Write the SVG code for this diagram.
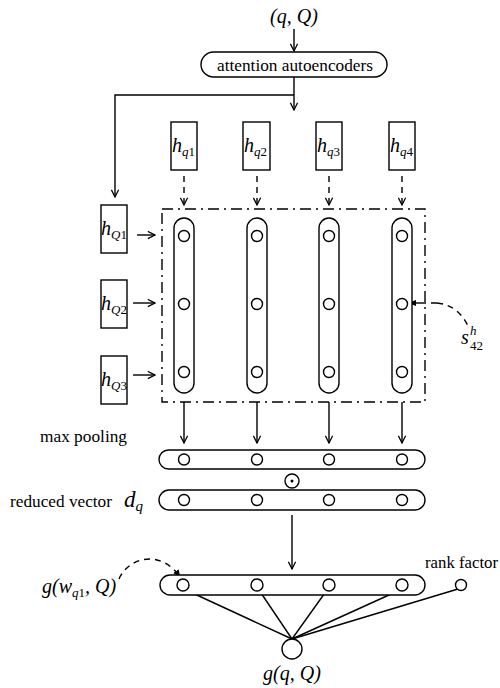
<svg xmlns="http://www.w3.org/2000/svg" width="500" height="688" viewBox="0 0 500 688">
<style>
.ln{stroke:#000;stroke-width:1.4;fill:none}
.dash{stroke:#000;stroke-width:1.4;fill:none;stroke-dasharray:6,5}
.dd{stroke:#000;stroke-width:1.4;fill:none;stroke-dasharray:11,5,2,5}
.box{stroke:#000;stroke-width:1.4;fill:#fff}
.c{stroke:#000;stroke-width:1.4;fill:#fff}
.t{font-family:"Liberation Serif",serif;font-size:17px;fill:#000}
.m{font-family:"Liberation Serif",serif;font-style:italic;font-size:20px;fill:#000}
.s{font-size:13px}
.up{font-style:normal}
</style>
<defs>
<marker id="arr" viewBox="0 0 10 10" refX="9" refY="5" markerWidth="9" markerHeight="9" markerUnits="userSpaceOnUse" orient="auto">
<path d="M1,1 L9,5 L1,9" fill="none" stroke="#000" stroke-width="1.4"/>
</marker>
<marker id="tri" viewBox="0 0 10 10" refX="9" refY="5" markerWidth="8" markerHeight="8" markerUnits="userSpaceOnUse" orient="auto">
<path d="M0,1 L10,5 L0,9 Z" fill="#000"/>
</marker>
</defs>

<g id="connectors">
<line class="ln" x1="294" y1="29" x2="294" y2="51" marker-end="url(#arr)"/>
<line class="ln" x1="294" y1="77" x2="294" y2="110" marker-end="url(#arr)"/>
<polyline class="ln" points="294,95 115,95 115,197" marker-end="url(#arr)"/>
<line class="dash" x1="184" y1="176" x2="184" y2="205" marker-end="url(#arr)"/>
<line class="dash" x1="257" y1="176" x2="257" y2="205" marker-end="url(#arr)"/>
<line class="dash" x1="329" y1="176" x2="329" y2="205" marker-end="url(#arr)"/>
<line class="dash" x1="402" y1="176" x2="402" y2="205" marker-end="url(#arr)"/>
<line class="ln" x1="137" y1="235" x2="155" y2="235" marker-end="url(#arr)"/>
<line class="ln" x1="133" y1="303" x2="155" y2="303" marker-end="url(#arr)"/>
<line class="ln" x1="133" y1="375" x2="155" y2="375" marker-end="url(#arr)"/>
<path class="dash" d="M437,303 L425,303 M437,303 Q458,305 468,326" />
<line class="ln" x1="425" y1="303" x2="409" y2="303" marker-end="url(#tri)"/>
<line class="ln" x1="184" y1="402" x2="184" y2="443" marker-end="url(#arr)"/>
<line class="ln" x1="257" y1="402" x2="257" y2="443" marker-end="url(#arr)"/>
<line class="ln" x1="329" y1="402" x2="329" y2="443" marker-end="url(#arr)"/>
<line class="ln" x1="402" y1="402" x2="402" y2="443" marker-end="url(#arr)"/>
<line class="ln" x1="292" y1="515" x2="292" y2="569" marker-end="url(#arr)"/>
<path class="dash" d="M119,579 C128,558 160,548 180,577" marker-end="url(#tri)"/>
<line class="ln" x1="186" y1="590" x2="292" y2="639"/>
<line class="ln" x1="259" y1="590" x2="292" y2="639"/>
<line class="ln" x1="327" y1="590" x2="292" y2="639"/>
<line class="ln" x1="400" y1="590" x2="292" y2="639"/>
<line class="ln" x1="458" y1="589" x2="292" y2="639"/>
</g>

<g id="input"><text class="m" x="294" y="23" text-anchor="middle">(q, Q)</text></g>

<g id="autoencoders">
<rect class="box" x="201" y="52" width="186" height="25" rx="12.5"/>
<text class="t" x="217" y="71" textLength="156" lengthAdjust="spacingAndGlyphs">attention autoencoders</text>
</g>

<g id="hq1"><rect class="box" x="171" y="122" width="26" height="48"/><text class="m" x="172" y="152">h<tspan class="s" dy="4">q<tspan class="up">1</tspan></tspan></text></g>
<g id="hq2"><rect class="box" x="243" y="122" width="27" height="48"/><text class="m" x="244" y="152">h<tspan class="s" dy="4">q<tspan class="up">2</tspan></tspan></text></g>
<g id="hq3"><rect class="box" x="316" y="122" width="26" height="48"/><text class="m" x="317" y="152">h<tspan class="s" dy="4">q<tspan class="up">3</tspan></tspan></text></g>
<g id="hq4"><rect class="box" x="389" y="122" width="26" height="48"/><text class="m" x="390" y="152">h<tspan class="s" dy="4">q<tspan class="up">4</tspan></tspan></text></g>

<g id="hQ1"><rect class="box" x="101" y="205" width="26" height="48"/><text class="m" x="101" y="235">h<tspan class="s" dy="4">Q<tspan class="up">1</tspan></tspan></text></g>
<g id="hQ2"><rect class="box" x="101" y="280" width="26" height="48"/><text class="m" x="101" y="310">h<tspan class="s" dy="4">Q<tspan class="up">2</tspan></tspan></text></g>
<g id="hQ3"><rect class="box" x="101" y="356" width="26" height="48"/><text class="m" x="101" y="386">h<tspan class="s" dy="4">Q<tspan class="up">3</tspan></tspan></text></g>

<g id="similarity">
<rect class="dd" x="162" y="209" width="263" height="193"/>
<rect class="box" x="174" y="218" width="20" height="175" rx="10"/>
<rect class="box" x="247" y="218" width="20" height="175" rx="10"/>
<rect class="box" x="319" y="218" width="20" height="175" rx="10"/>
<rect class="box" x="392" y="218" width="20" height="175" rx="10"/>
<circle class="c" cx="184" cy="236" r="5.5"/><circle class="c" cx="184" cy="304" r="5.5"/><circle class="c" cx="184" cy="372" r="5.5"/>
<circle class="c" cx="257" cy="236" r="5.5"/><circle class="c" cx="257" cy="304" r="5.5"/><circle class="c" cx="257" cy="372" r="5.5"/>
<circle class="c" cx="329" cy="236" r="5.5"/><circle class="c" cx="329" cy="304" r="5.5"/><circle class="c" cx="329" cy="372" r="5.5"/>
<circle class="c" cx="402" cy="236" r="5.5"/><circle class="c" cx="402" cy="304" r="5.5"/><circle class="c" cx="402" cy="372" r="5.5"/>
</g>

<g id="s42">
<text class="m" x="461" y="344">s</text>
<text class="m s" x="470" y="335">h</text>
<text class="m s up" x="470" y="350">42</text>
</g>

<g id="maxpool">
<text class="t" x="40" y="442" textLength="87" lengthAdjust="spacingAndGlyphs">max pooling</text>
<rect class="box" x="159" y="450" width="266" height="19" rx="9.5"/>
<circle class="c" cx="184" cy="459.5" r="5.5"/><circle class="c" cx="257" cy="459.5" r="5.5"/><circle class="c" cx="329" cy="459.5" r="5.5"/><circle class="c" cx="402" cy="459.5" r="5.5"/>
</g>

<g id="odot"><circle class="c" cx="292" cy="481" r="7"/><circle cx="292" cy="481" r="1.5" fill="#000"/></g>

<g id="reduced">
<text class="t" x="10" y="507" textLength="102" lengthAdjust="spacingAndGlyphs">reduced vector</text>
<text class="m" x="124" y="507" style="font-size:23px">d<tspan class="s" style="font-size:15px" dy="4">q</tspan></text>
<rect class="box" x="159" y="490" width="266" height="20" rx="10"/>
<circle class="c" cx="184" cy="500" r="5.5"/><circle class="c" cx="257" cy="500" r="5.5"/><circle class="c" cx="329" cy="500" r="5.5"/><circle class="c" cx="402" cy="500" r="5.5"/>
</g>

<g id="output">
<rect class="box" x="160" y="575" width="265" height="20" rx="10"/>
<circle class="c" cx="183" cy="585" r="6"/><circle class="c" cx="257" cy="585" r="6"/><circle class="c" cx="329" cy="585" r="6"/><circle class="c" cx="402" cy="585" r="6"/>
</g>

<g id="rank"><text class="t" x="425" y="568" textLength="73" lengthAdjust="spacingAndGlyphs">rank factor</text><circle class="c" cx="461" cy="585" r="5.5"/></g>

<g id="gw"><text class="m" x="42" y="593">g(w<tspan class="s" dy="4">q<tspan class="up">1</tspan></tspan><tspan dy="-4">, Q)</tspan></text></g>

<g id="g"><circle class="c" cx="292" cy="649" r="10"/><text class="m" x="292" y="680" text-anchor="middle">g(q, Q)</text></g>
</svg>
